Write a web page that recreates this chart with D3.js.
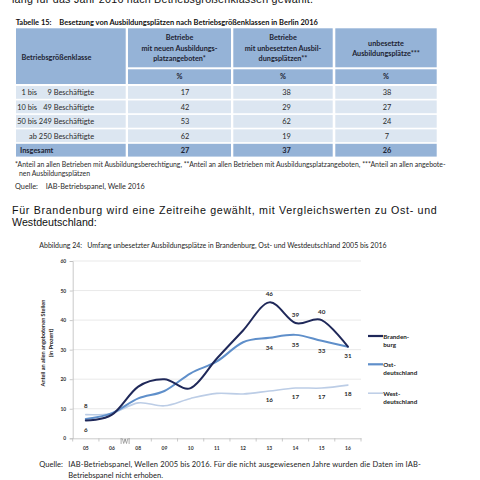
<!DOCTYPE html>
<html><head><meta charset="utf-8">
<script src="https://cdn.jsdelivr.net/npm/d3@7"></script>
<style>
html,body{margin:0;padding:0;background:#fff;}
svg{display:block;}
</style>
</head><body>
<script>
// ---------- data ----------
const sizeClassPrefix = ["1 bis", "10 bis", "50 bis", "ab"];
const sizeClassNumber = ["9", "49", "249", "250"];
const colHeaders = [
  ["Betriebe", "mit neuen Ausbildungs-", "platzangeboten*"],
  ["Betriebe", "mit unbesetzten Ausbil-", "dungsplätzen**"],
  ["unbesetzte", "Ausbildungsplätze***"]
];
const neueAngebote = [17, 42, 53, 62];
const unbesetzteBetriebe = [38, 29, 62, 19];
const unbesetztePlaetze = [38, 27, 24, 7];
const insgesamt = [27, 37, 26];

const years = ["05", "06", "08", "09", "10", "11", "12", "13", "14", "15", "16"];
const brandenburg = [6, 8, 17.5, 20, 17, 27, 36.5, 46, 39, 40, 31];
const ostdeutschland = [6.5, 8.5, 13.5, 16, 22, 26, 32.5, 34, 35, 33, 31];
const westdeutschland = [8, 8.5, 12, 11, 13.5, 15.2, 15, 16, 17, 17, 18];
const yTicks = [0, 10, 20, 30, 40, 50, 60];
const labelYearsBrandenburg = ["05", "13", "14", "15", "16"];
const labelYearsOst = ["13", "14", "15"];
const labelYearsWest = ["05", "13", "14", "15", "16"];

// ---------- drawing ----------
const W = 480, H = 480;
const svg = d3.select("body").append("svg").attr("width", W).attr("height", H);
svg.append("rect").attr("width", W).attr("height", H).attr("fill", "#fff");

const body = "'Liberation Sans', Arial, sans-serif";
const cal = "Lato, 'Open Sans', sans-serif";
const txtCol = "#2b2b2b";

function measure(str, weight, size, family = cal) {
  const t = svg.append("text").attr("font-family", family).attr("font-size", size)
    .attr("font-weight", weight).attr("xml:space", "preserve").style("white-space", "pre").text(str);
  const w = t.node().getComputedTextLength();
  t.remove();
  return w;
}
function fit(str, weight, target, family = cal) {
  return 10 * target / measure(str, weight, 10, family);
}

function txt(x, y, s, opt = {}) {
  const t = svg.append("text").attr("x", x).attr("y", y).text(s)
    .attr("font-family", opt.family || cal)
    .attr("font-size", opt.size || 6.5)
    .attr("font-weight", opt.weight || "normal")
    .attr("fill", opt.fill || txtCol)
    .attr("text-anchor", opt.anchor || "start");
  if (opt.len) t.attr("textLength", opt.len).attr("lengthAdjust", "spacing");
  if (opt.baseline) t.attr("dominant-baseline", opt.baseline);
  return t;
}

const fsHead = fit("Betriebsgrößenklasse", "bold", 70);
const fsHeadCol = fit("mit neuen Ausbildungs-", "bold", 76);
const fsBody = fit("50 bis 249 Beschäftigte", "normal", 77);
const fsCap = fit("Besetzung von Ausbildungsplätzen nach Betriebsgrößenklassen in Berlin 2016", "bold", 258.7);
const fsFoot = fit("*Anteil an allen Betrieben mit Ausbildungsberechtigung, **Anteil an allen Betrieben mit Ausbildungsplatzangeboten, ***Anteil an allen angebote-", "normal", 431.7);
const fsQuelle = fit("IAB-Betriebspanel, Welle 2016", "normal", 99.3);
const fsTitle = fit("Umfang unbesetzter Ausbildungsplätze in Brandenburg, Ost- und Westdeutschland 2005 bis 2016", "normal", 299.4);
const fsSource = fit("IAB-Betriebspanel, Wellen 2005 bis 2016. Für die nicht ausgewiesenen Jahre wurden die Daten im IAB-", "normal", 340);
const fsLegend = fit("deutschland", "bold", 34);
const fsLabel = fit("46", "bold", 7.3);
const fsTick = fit("05", "bold", 5.8);
const fsYTitle = fit("Anteil an allen angebotenen Stellen", "bold", 87);

// column-1 layout derived from the widest row
const c1Start = 17.3;
const prefixEnd = c1Start + measure("50 bis", "normal", fsBody);
const numEnd = c1Start + measure("50 bis 249", "normal", fsBody);
const beschStart = c1Start + measure("50 bis 249 ", "normal", fsBody);

// top cut-off paragraph line
txt(12, 2.6, "lang für das Jahr 2016 nach Betriebsgrößenklassen gewählt.", {family: body, size: 10.7, fill: "#111", len: 301});

// table caption
txt(15.7, 25.2, "Tabelle 15:", {size: fsCap, weight: "bold", fill: "#111"});
txt(59.3, 25.2, "Besetzung von Ausbildungsplätzen nach Betriebsgrößenklassen in Berlin 2016", {size: fsCap, weight: "bold", fill: "#111"});

// table
const headFill = "#95b3d7", rowFill = "#dce6f1", headTxt = "#1e2433";
const colEdges = [[16, 125.7], [128, 231], [233.3, 332.7], [335.3, 436.7]];
const numOffset = [5.5, 3.5, 1];
const tbl = svg.append("g");
tbl.append("rect").attr("x", colEdges[0][0]).attr("y", 28.3).attr("width", colEdges[0][1] - colEdges[0][0]).attr("height", 55.7).attr("fill", headFill);
txt(21.5, 57.5, "Betriebsgrößenklasse", {size: fsHead, weight: "bold", baseline: "central", fill: headTxt});
colHeaders.forEach((lines, i) => {
  const [x0, x1] = colEdges[i + 1];
  const cx = (x0 + x1) / 2;
  tbl.append("rect").attr("x", x0).attr("y", 28.3).attr("width", x1 - x0).attr("height", 39).attr("fill", headFill);
  tbl.append("rect").attr("x", x0).attr("y", 69.3).attr("width", x1 - x0).attr("height", 14.7).attr("fill", headFill);
  const start = lines.length === 3 ? 37.6 : 43.6;
  const step = lines.length === 3 ? 10.4 : 10;
  lines.forEach((l, j) => txt(cx, start + j * step, l, {size: fsHeadCol, weight: "bold", anchor: "middle", baseline: "central", fill: headTxt}));
  txt(cx, 76.9, "%", {size: fsHeadCol, weight: "bold", anchor: "middle", baseline: "central", fill: headTxt});
});
const colValues = [neueAngebote, unbesetzteBetriebe, unbesetztePlaetze];
sizeClassPrefix.forEach((p, r) => {
  const y0 = 86 + r * 14.45, h = 12.8, cy = y0 + h / 2 + 0.3;
  colEdges.forEach(([x0, x1]) => tbl.append("rect").attr("x", x0).attr("y", y0).attr("width", x1 - x0).attr("height", h).attr("fill", rowFill));
  txt(prefixEnd, cy, p, {size: fsBody, anchor: "end", baseline: "central"});
  txt(numEnd, cy, sizeClassNumber[r], {size: fsBody, anchor: "end", baseline: "central"});
  txt(beschStart, cy, "Beschäftigte", {size: fsBody, baseline: "central"});
  colValues.forEach((vals, c) => {
    const [x0, x1] = colEdges[c + 1];
    txt((x0 + x1) / 2 + numOffset[c], cy, vals[r], {size: fsBody, anchor: "middle", baseline: "central"});
  });
});
{
  const y0 = 86 + 4 * 14.45, h = 12.8, cy = y0 + h / 2 + 0.3;
  colEdges.forEach(([x0, x1]) => tbl.append("rect").attr("x", x0).attr("y", y0).attr("width", x1 - x0).attr("height", h).attr("fill", headFill));
  txt(20, cy, "Insgesamt", {size: fsBody, weight: "bold", baseline: "central", fill: headTxt});
  insgesamt.forEach((v, c) => {
    const [x0, x1] = colEdges[c + 1];
    txt((x0 + x1) / 2 + numOffset[c], cy, v, {size: fsBody, weight: "bold", anchor: "middle", baseline: "central", fill: headTxt});
  });
}

// footnotes
txt(15, 167.3, "*Anteil an allen Betrieben mit Ausbildungsberechtigung, **Anteil an allen Betrieben mit Ausbildungsplatzangeboten, ***Anteil an allen angebote-", {size: fsFoot});
txt(19, 175.8, "nen Ausbildungsplätzen", {size: fsFoot});
txt(15, 188.8, "Quelle:", {size: fsQuelle});
txt(45.7, 188.8, "IAB-Betriebspanel, Welle 2016", {size: fsQuelle});

// body paragraph
txt(12, 214.3, "Für Brandenburg wird eine Zeitreihe gewählt, mit Vergleichswerten zu Ost- und", {family: body, size: 10.7, fill: "#111", len: 424.7});
txt(12, 225.7, "Westdeutschland:", {family: body, size: 10.7, fill: "#111"});

// chart title
txt(39.3, 248, "Abbildung 24:", {size: fsTitle, fill: "#222"});
txt(87.3, 248, "Umfang unbesetzter Ausbildungsplätze in Brandenburg, Ost- und Westdeutschland 2005 bis 2016", {size: fsTitle, fill: "#222"});

// chart
const x = d3.scaleBand().domain(years).range([72.7, 361]);
const y = d3.scaleLinear().domain([0, 60]).range([438.3, 261]);
const cx = d => x(d) + x.bandwidth() / 2;
const ch = svg.append("g");

ch.selectAll(".grid").data(yTicks.filter(t => t > 0)).enter().append("line")
  .attr("x1", 72.7).attr("x2", 361).attr("y1", d => y(d)).attr("y2", d => y(d))
  .attr("stroke", "#e3e3e3").attr("stroke-width", 0.8);

const yAxis = ch.append("g").attr("transform", "translate(72.7,0)")
  .call(d3.axisLeft(y).tickValues(yTicks).tickSize(3).tickPadding(3.5));
yAxis.select(".domain").attr("stroke", "#bdbdbd").attr("stroke-width", 0.8);
yAxis.selectAll(".tick line").attr("stroke", "#bdbdbd").attr("stroke-width", 0.8);
yAxis.selectAll(".tick text").attr("font-family", cal).attr("font-size", fsTick).attr("font-weight", "bold").attr("fill", "#333");

const xAxis = ch.append("g").attr("transform", "translate(0,438.3)")
  .call(d3.axisBottom(x).tickSize(0).tickPadding(8));
xAxis.select(".domain").attr("stroke", "#bdbdbd").attr("stroke-width", 0.8);
xAxis.selectAll(".tick text").attr("font-family", cal).attr("font-size", fsTick).attr("font-weight", "bold").attr("fill", "#333");
ch.selectAll(".xt").data(years.concat(["end"])).enter().append("line")
  .attr("x1", (d, i) => 72.7 + i * x.step()).attr("x2", (d, i) => 72.7 + i * x.step())
  .attr("y1", 438.3).attr("y2", 441.5).attr("stroke", "#bdbdbd").attr("stroke-width", 0.8);

{
  const bx = (cx("06") + cx("08")) / 2;
  ch.append("path")
    .attr("d", `M${bx - 4},438 V444 M${bx - 2.8},438.5 L${bx - 1.4},443.5 L${bx},439 L${bx + 1.4},443.5 L${bx + 2.8},438.5 M${bx + 4},438 V444`)
    .attr("fill", "none").attr("stroke", "#777").attr("stroke-width", 0.6);
}

const yt = ch.append("g").attr("transform", "translate(45.3,343) rotate(-90)");
yt.append("text").attr("text-anchor", "middle").attr("font-family", cal).attr("font-size", fsYTitle).attr("font-weight", "bold").attr("fill", "#222").text("Anteil an allen angebotenen Stellen");
yt.append("text").attr("y", 7.5).attr("text-anchor", "middle").attr("font-family", cal).attr("font-size", fsYTitle).attr("font-weight", "bold").attr("fill", "#222").text("(in Prozent)");

const series = [
  {vals: westdeutschland, color: "#bccde6", w: 1.6},
  {vals: ostdeutschland, color: "#5f8fca", w: 2},
  {vals: brandenburg, color: "#1f2859", w: 2}
];
const line = d3.line().x((d, i) => cx(years[i])).y(d => y(d)).curve(d3.curveCatmullRom.alpha(0));
series.forEach(s => {
  ch.append("path").datum(s.vals).attr("d", line).attr("fill", "none")
    .attr("stroke", s.color).attr("stroke-width", s.w).attr("stroke-linejoin", "round").attr("stroke-linecap", "round");
});

function labels(vals, ys, dy) {
  ys.forEach(yr => {
    const i = years.indexOf(yr);
    const v = vals[i];
    txt(cx(yr), y(v) + dy(yr), Math.round(v), {size: fsLabel, weight: "bold", anchor: "middle", baseline: "central", fill: "#2a2a2a"});
  });
}
labels(brandenburg, labelYearsBrandenburg, yr => (yr === "05" || yr === "16") ? 8.7 : -8.7);
labels(ostdeutschland, labelYearsOst, () => 9.4);
labels(westdeutschland, labelYearsWest, yr => yr === "05" ? -9 : 8.8);

const legend = [
  {lines: ["Branden-", "burg"], color: "#1f2859", w: 2.2},
  {lines: ["Ost-", "deutschland"], color: "#5f8fca", w: 2.2},
  {lines: ["West-", "deutschland"], color: "#bccde6", w: 1.5}
];
const legY = [336, 364.3, 393.2];
legend.forEach((l, i) => {
  ch.append("line").attr("x1", 368).attr("x2", 383).attr("y1", legY[i]).attr("y2", legY[i])
    .attr("stroke", l.color).attr("stroke-width", l.w);
  l.lines.forEach((t, j) => txt(383.3, legY[i] + j * 8.4, t, {size: fsLegend, weight: "bold", baseline: "central", fill: "#222"}));
});

txt(39.3, 467.3, "Quelle:", {size: fsSource, fill: "#222"});
txt(68.3, 467.3, "IAB-Betriebspanel, Wellen 2005 bis 2016. Für die nicht ausgewiesenen Jahre wurden die Daten im IAB-", {size: fsSource, fill: "#222", len: 352.4});
txt(68.3, 478, "Betriebspanel nicht erhoben.", {size: fsSource, fill: "#222"});
</script>
</body></html>
